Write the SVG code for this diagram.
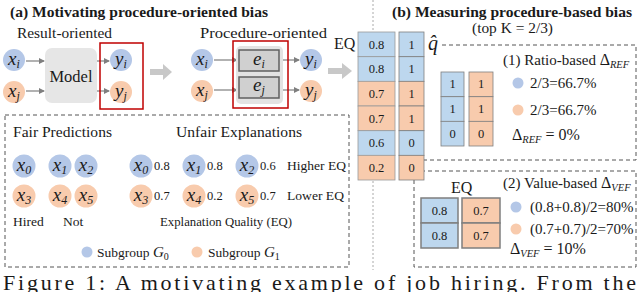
<svg xmlns="http://www.w3.org/2000/svg" width="640" height="292" viewBox="0 0 640 292">
<defs>
<style>
text{font-family:'Liberation Serif','Times New Roman',serif;fill:#1a1a1a}
.t{font-size:15.3px;font-weight:bold}
.r{font-size:15.3px}
.s{font-size:13.5px}
.v{font-size:15px}
.d{font-size:16px}
.n{font-size:12.5px}
.m{font-size:19px;font-style:italic}
.sub{font-size:12px;font-style:italic}
.ss{font-size:10.5px;font-style:italic}
.b{fill:#b4c7e7}
.o{fill:#f8cbad}
.cb{fill:#bdd7ee;stroke:#9a9a9a;stroke-width:0.8}
.co{fill:#f8cbad;stroke:#9a9a9a;stroke-width:0.8}
.kb{fill:#bdd7ee;stroke:#7f7f7f;stroke-width:1.5}
.ko{fill:#f8cbad;stroke:#7f7f7f;stroke-width:1.5}
.dash{fill:none;stroke:#555;stroke-width:1;stroke-dasharray:4 3}
.div{fill:none;stroke:#aaa;stroke-width:1;stroke-dasharray:2 2}
.ar{stroke:#7f7f7f;stroke-width:1.2;fill:none;marker-end:url(#ah)}
.big{fill:#c8c8c8}
.mid{text-anchor:middle}
</style>
<marker id="ah" markerWidth="6" markerHeight="6" refX="5" refY="3" orient="auto" markerUnits="userSpaceOnUse">
<path d="M0,0 L6,3 L0,6 Z" fill="#7f7f7f"/>
</marker>
</defs>

<rect width="640" height="292" fill="#fff"/>
<g font-family="Liberation Serif, Times New Roman, serif">

<!-- titles -->
<text class="t" x="10" y="17" textLength="258" lengthAdjust="spacingAndGlyphs">(a) Motivating procedure-oriented bias</text>
<text class="t" x="392" y="17" textLength="240" lengthAdjust="spacingAndGlyphs">(b) Measuring procedure-based bias</text>
<text class="r" x="472" y="33" textLength="81" lengthAdjust="spacingAndGlyphs">(top K = 2/3)</text>
<text class="r" x="17" y="38" textLength="95" lengthAdjust="spacingAndGlyphs">Result-oriented</text>
<text class="r" x="200" y="38" textLength="127" lengthAdjust="spacingAndGlyphs">Procedure-oriented</text>

<!-- dividers and dashed boxes -->
<g id="frames">
<line class="div" x1="373" y1="0" x2="373" y2="32"/>
<line class="div" x1="373" y1="181" x2="373" y2="270"/>
<rect class="dash" x="5" y="115" width="344" height="152"/>
<path class="dash" d="M442,45 H636 V160 H424"/>
<rect class="dash" x="414" y="171" width="222" height="96"/>
</g>

<!-- connectors -->
<g id="connectors">
<line class="ar" x1="26" y1="61" x2="44" y2="61"/>
<line class="ar" x1="26" y1="91" x2="44" y2="91"/>
<line class="ar" x1="97" y1="61" x2="109" y2="61"/>
<line class="ar" x1="97" y1="91" x2="109" y2="91"/>
<line class="ar" x1="214" y1="60" x2="237" y2="60"/>
<line class="ar" x1="214" y1="90" x2="237" y2="90"/>
<line class="ar" x1="279" y1="60" x2="299" y2="60"/>
<line class="ar" x1="279" y1="90" x2="299" y2="90"/>
<path class="big" d="M150,69 H163 V64 L172,72 L163,80 V75 H150 Z"/>
<path class="big" d="M328,68 H342 V63 L352,71 L342,79 V74 H328 Z"/>
</g>

<!-- result-oriented -->
<g id="ro-xi"><circle class="b" cx="14" cy="60" r="11"/><text class="m mid" x="14" y="65">x<tspan class="sub" dy="3">i</tspan></text></g>
<g id="ro-xj"><circle class="o" cx="14" cy="92" r="11"/><text class="m mid" x="14" y="97">x<tspan class="sub" dy="3">j</tspan></text></g>
<g id="model"><rect x="45" y="48" width="52" height="55" rx="7" fill="#e6e6e6"/><text class="mid" x="71" y="82" style="font-size:16.5px">Model</text></g>
<g id="ro-out">
<rect x="100" y="43" width="43" height="66" fill="none" stroke="#c00000" stroke-width="1.5"/>
<circle class="b" cx="121" cy="60" r="11"/><text class="m mid" x="121" y="65">y<tspan class="sub" dy="3">i</tspan></text>
<circle class="o" cx="121" cy="92" r="11"/><text class="m mid" x="121" y="97">y<tspan class="sub" dy="3">j</tspan></text>
</g>

<!-- procedure-oriented -->
<g id="po-xi"><circle class="b" cx="202" cy="60" r="11"/><text class="m mid" x="202" y="65">x<tspan class="sub" dy="3">i</tspan></text></g>
<g id="po-xj"><circle class="o" cx="202" cy="91" r="11"/><text class="m mid" x="202" y="96">x<tspan class="sub" dy="3">j</tspan></text></g>
<g id="po-e">
<rect x="236" y="46" width="47" height="58" rx="5" fill="#e3e3e3"/>
<rect x="239" y="50" width="40" height="21" fill="#d0d0d0" stroke="#606060" stroke-width="1.5"/>
<text class="m mid" x="259" y="65">e<tspan class="sub" dy="3">i</tspan></text>
<rect x="239" y="77" width="40" height="21" fill="#d0d0d0" stroke="#606060" stroke-width="1.5"/>
<text class="m mid" x="259" y="91">e<tspan class="sub" dy="3">j</tspan></text>
<rect x="233" y="41" width="55" height="67" fill="none" stroke="#c00000" stroke-width="1.5"/>
</g>
<g id="po-yi"><circle class="b" cx="311" cy="60" r="11"/><text class="m mid" x="311" y="65">y<tspan class="sub" dy="3">i</tspan></text></g>
<g id="po-yj"><circle class="o" cx="311" cy="91" r="11"/><text class="m mid" x="311" y="96">y<tspan class="sub" dy="3">j</tspan></text></g>

<!-- fair / unfair -->
<g id="fair">
<text class="r" x="13" y="137" textLength="99" lengthAdjust="spacingAndGlyphs">Fair Predictions</text>
<circle class="b" cx="24" cy="166" r="11.5"/><text class="m mid" x="24" y="171">x<tspan class="sub" dy="3">0</tspan></text>
<circle class="b" cx="60" cy="166" r="11.5"/><text class="m mid" x="60" y="171">x<tspan class="sub" dy="3">1</tspan></text>
<circle class="b" cx="86" cy="166" r="11.5"/><text class="m mid" x="86" y="171">x<tspan class="sub" dy="3">2</tspan></text>
<circle class="o" cx="24" cy="196" r="11.5"/><text class="m mid" x="24" y="201">x<tspan class="sub" dy="3">3</tspan></text>
<circle class="o" cx="60" cy="196" r="11.5"/><text class="m mid" x="60" y="201">x<tspan class="sub" dy="3">4</tspan></text>
<circle class="o" cx="86" cy="196" r="11.5"/><text class="m mid" x="86" y="201">x<tspan class="sub" dy="3">5</tspan></text>
<text class="s" x="13" y="226">Hired</text>
<text class="s" x="63" y="226">Not</text>
</g>
<g id="unfair">
<text class="r" x="176" y="137" textLength="126" lengthAdjust="spacingAndGlyphs">Unfair Explanations</text>
<circle class="b" cx="141" cy="166" r="11.5"/><text class="m mid" x="141" y="171">x<tspan class="sub" dy="3">0</tspan></text>
<text class="n" x="154" y="170">0.8</text>
<circle class="b" cx="194" cy="166" r="11.5"/><text class="m mid" x="194" y="171">x<tspan class="sub" dy="3">1</tspan></text>
<text class="n" x="207" y="170">0.8</text>
<circle class="b" cx="247" cy="166" r="11.5"/><text class="m mid" x="247" y="171">x<tspan class="sub" dy="3">2</tspan></text>
<text class="n" x="260" y="170">0.6</text>
<text class="s" x="287" y="170" textLength="59" lengthAdjust="spacingAndGlyphs">Higher EQ</text>
<circle class="o" cx="141" cy="196" r="11.5"/><text class="m mid" x="141" y="201">x<tspan class="sub" dy="3">3</tspan></text>
<text class="n" x="154" y="200">0.7</text>
<circle class="o" cx="194" cy="196" r="11.5"/><text class="m mid" x="194" y="201">x<tspan class="sub" dy="3">4</tspan></text>
<text class="n" x="207" y="200">0.2</text>
<circle class="o" cx="247" cy="196" r="11.5"/><text class="m mid" x="247" y="201">x<tspan class="sub" dy="3">5</tspan></text>
<text class="n" x="260" y="200">0.7</text>
<text class="s" x="287" y="200" textLength="57" lengthAdjust="spacingAndGlyphs">Lower EQ</text>
<text class="s" x="160" y="226" textLength="132" lengthAdjust="spacingAndGlyphs">Explanation Quality (EQ)</text>
</g>
<g id="legend">
<circle class="b" cx="87" cy="252" r="5.5"/>
<text class="s" x="97" y="257">Subgroup <tspan style="font-style:italic;font-size:15px">G</tspan><tspan style="font-size:10px" dy="3">0</tspan></text>
<circle class="o" cx="197" cy="252" r="5.5"/>
<text class="s" x="208" y="257">Subgroup <tspan style="font-style:italic;font-size:15px">G</tspan><tspan style="font-size:10px" dy="3">1</tspan></text>
</g>

<!-- EQ ranking columns -->
<g id="eq-col">
<text class="r" x="334" y="49" style="font-size:16px">EQ</text>
<rect class="cb" x="358" y="32" width="37" height="24.7"/>
<rect class="cb" x="358" y="56.7" width="37" height="24.7"/>
<rect class="co" x="358" y="81.3" width="37" height="24.7"/>
<rect class="co" x="358" y="106" width="37" height="24.7"/>
<rect class="cb" x="358" y="130.7" width="37" height="24.7"/>
<rect class="co" x="358" y="155.3" width="37" height="24.7"/>
<text class="n mid" x="376.5" y="48.5">0.8</text>
<text class="n mid" x="376.5" y="73">0.8</text>
<text class="n mid" x="376.5" y="98">0.7</text>
<text class="n mid" x="376.5" y="122.5">0.7</text>
<text class="n mid" x="376.5" y="147">0.6</text>
<text class="n mid" x="376.5" y="172">0.2</text>
</g>
<g id="q-col">
<rect class="cb" x="399" y="32" width="25" height="24.7" style="stroke:#7f7f7f"/>
<rect class="cb" x="399" y="56.7" width="25" height="24.7" style="stroke:#7f7f7f"/>
<rect class="co" x="399" y="81.3" width="25" height="24.7" style="stroke:#7f7f7f"/>
<rect class="co" x="399" y="106" width="25" height="24.7" style="stroke:#7f7f7f"/>
<rect class="cb" x="399" y="130.7" width="25" height="24.7" style="stroke:#7f7f7f"/>
<rect class="co" x="399" y="155.3" width="25" height="24.7" style="stroke:#7f7f7f"/>
<text class="n mid" x="411.5" y="48.5">1</text>
<text class="n mid" x="411.5" y="73">1</text>
<text class="n mid" x="411.5" y="98">1</text>
<text class="n mid" x="411.5" y="122.5">1</text>
<text class="n mid" x="411.5" y="147">0</text>
<text class="n mid" x="411.5" y="172">0</text>
<text x="428" y="50" style="font-size:20px;font-style:italic">q̂</text>
</g>

<!-- ratio-based -->
<g id="ratio">
<rect class="cb" x="441" y="72" width="23" height="24.7" style="stroke:#7f7f7f"/>
<rect class="cb" x="441" y="96.7" width="23" height="24.7" style="stroke:#7f7f7f"/>
<rect class="cb" x="441" y="121.3" width="23" height="24.7" style="stroke:#7f7f7f"/>
<rect class="co" x="469" y="72" width="24" height="24.7" style="stroke:#7f7f7f"/>
<rect class="co" x="469" y="96.7" width="24" height="24.7" style="stroke:#7f7f7f"/>
<rect class="co" x="469" y="121.3" width="24" height="24.7" style="stroke:#7f7f7f"/>
<text class="n mid" x="452.5" y="88">1</text>
<text class="n mid" x="452.5" y="113">1</text>
<text class="n mid" x="452.5" y="138">0</text>
<text class="n mid" x="481" y="88">1</text>
<text class="n mid" x="481" y="113">1</text>
<text class="n mid" x="481" y="138">0</text>
<text class="v" x="503" y="65">(1) Ratio-based <tspan class="d">Δ</tspan><tspan class="ss" dy="3">REF</tspan></text>
<circle class="b" cx="518" cy="83" r="5.5"/>
<text class="v" x="530" y="88">2/3=66.7%</text>
<circle class="o" cx="518" cy="110" r="5.5"/>
<text class="v" x="530" y="115">2/3=66.7%</text>
<text class="d" x="512" y="140">Δ<tspan class="ss" dy="3">REF</tspan><tspan dy="-3"> = 0%</tspan></text>
</g>

<!-- value-based -->
<g id="value">
<text class="r" x="451" y="193" style="font-size:16px">EQ</text>
<rect class="kb" x="421" y="198" width="37" height="25"/>
<rect class="kb" x="421" y="223" width="37" height="25"/>
<rect class="ko" x="462" y="198" width="38" height="25"/>
<rect class="ko" x="462" y="223" width="38" height="25"/>
<text class="n mid" x="439.5" y="215">0.8</text>
<text class="n mid" x="439.5" y="240">0.8</text>
<text class="n mid" x="481" y="215">0.7</text>
<text class="n mid" x="481" y="240">0.7</text>
<text class="v" x="503" y="188">(2) Value-based <tspan class="d">Δ</tspan><tspan class="ss" dy="3">VEF</tspan></text>
<circle class="b" cx="516" cy="207" r="5.5"/>
<text class="v" x="530" y="212">(0.8+0.8)/2=80%</text>
<circle class="o" cx="516" cy="229" r="5.5"/>
<text class="v" x="530" y="234">(0.7+0.7)/2=70%</text>
<text class="d" x="510" y="254">Δ<tspan class="ss" dy="3">VEF</tspan><tspan dy="-3"> = 10%</tspan></text>
</g>

<text x="3" y="290" style="font-size:22px" textLength="633" lengthAdjust="spacing">Figure 1: A motivating example of job hiring. From the</text>
</g>
</svg>
